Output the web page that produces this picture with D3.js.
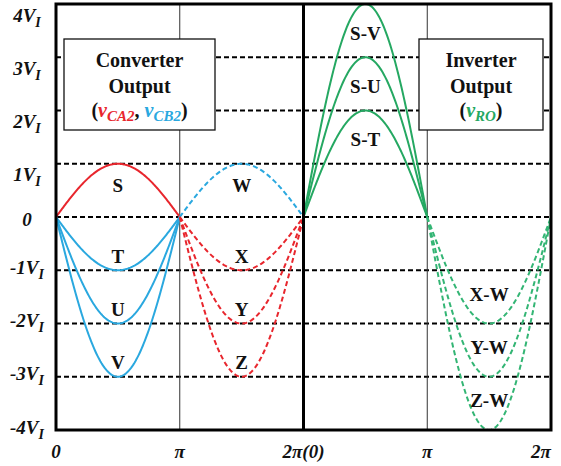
<!DOCTYPE html>
<html>
<head>
<meta charset="utf-8">
<script src="https://cdn.jsdelivr.net/npm/d3@7"></script>
<style>
  html, body { margin: 0; padding: 0; background: #fff; }
  svg { display: block; }
  text { font-family: "Liberation Serif", "Times New Roman", serif; font-weight: bold; }
</style>
</head>
<body>
<svg id="chart" width="561" height="466"></svg>
<script>
// Angle axis: two consecutive periods (converter side, then inverter side)
const angleTickValues = [0, Math.PI, 2 * Math.PI, 3 * Math.PI, 4 * Math.PI];
const angleTickLabels = ["0", "π", "2π(0)", "π", "2π"];

// Voltage axis in multiples of V_I
const voltTicks = [4, 3, 2, 1, 0, -1, -2, -3, -4];
const gridLevels = [3, 2, 1, 0, -1, -2, -3];

// Converter output, first half cycle (solid)
const convFirstNames = ["S", "T", "U", "V"];
const convFirstAmps = [1, -1, -2, -3];
const convFirstColors = ["#e8262d", "#2aa8df", "#2aa8df", "#2aa8df"];

// Converter output, second half cycle (dashed)
const convSecondNames = ["W", "X", "Y", "Z"];
const convSecondAmps = [1, -1, -2, -3];
const convSecondColors = ["#2aa8df", "#e8262d", "#e8262d", "#e8262d"];

// Inverter output, first half (solid) and second half (dashed)
const invFirstNames = ["S-T", "S-U", "S-V"];
const invFirstAmps = [2, 3, 4];
const invSecondNames = ["X-W", "Y-W", "Z-W"];
const invSecondAmps = [-2, -3, -4];
const invColor = "#25a862";
const invDashColor = "#33b574";

const svg = d3.select("#chart");

const x = d3.scaleLinear().domain([0, 4 * Math.PI]).range([56, 551]);
const y = d3.scaleLinear().domain([-4, 4]).range([430, 4]);

// Dashed reference levels
svg.append("g").selectAll("line").data(gridLevels).join("line")
  .attr("x1", x(0)).attr("x2", x(4 * Math.PI))
  .attr("y1", d => y(d)).attr("y2", d => y(d))
  .attr("stroke", "#000").attr("stroke-width", 2)
  .attr("stroke-dasharray", "5,3");

// Thin vertical markers at π (both halves)
svg.append("g").selectAll("line").data([Math.PI, 3 * Math.PI]).join("line")
  .attr("x1", d => x(d)).attr("x2", d => x(d))
  .attr("y1", y(4)).attr("y2", y(-4))
  .attr("stroke", "#333").attr("stroke-width", 1);

// Half-sine arcs
const line = d3.line().x(d => x(d[0])).y(d => y(d[1])).curve(d3.curveLinear);
function arc(start, amp) {
  return d3.range(0, 121).map(i => {
    const t = Math.PI * i / 120;
    return [start + t, amp * Math.sin(t)];
  });
}

function drawSet(names, amps, colors, start, dashed, inset) {
  const g = svg.append("g");
  g.selectAll("path").data(amps).join("path")
    .attr("d", a => line(arc(start, a)))
    .attr("fill", "none")
    .attr("stroke", (a, i) => colors[i])
    .attr("stroke-width", 2)
    .attr("stroke-dasharray", dashed ? "5,3" : null);
  g.selectAll("text").data(names).join("text")
    .attr("x", x(start + Math.PI / 2))
    .attr("y", (n, i) => y(amps[i] - Math.sign(amps[i]) * inset(amps[i])))
    .attr("dy", "0.35em")
    .attr("text-anchor", "middle")
    .attr("font-size", 19)
    .attr("fill", "#111")
    .text(n => n);
}

const convInset = a => (a > 0 ? 0.4 : 0.27);
const invInset = () => 0.55;

drawSet(convFirstNames, convFirstAmps, convFirstColors, 0, false, convInset);
drawSet(convSecondNames, convSecondAmps, convSecondColors, Math.PI, true, convInset);
drawSet(invFirstNames, invFirstAmps, invFirstAmps.map(() => invColor), 2 * Math.PI, false, invInset);
drawSet(invSecondNames, invSecondAmps, invSecondAmps.map(() => invDashColor), 3 * Math.PI, true, invInset);

// Annotation boxes
function box(x0, x1, lines, last) {
  const g = svg.append("g");
  g.append("rect")
    .attr("x", x0).attr("y", 39).attr("width", x1 - x0).attr("height", 91)
    .attr("fill", "#fff").attr("stroke", "#111").attr("stroke-width", 1.3);
  const cx = (x0 + x1) / 2;
  lines.forEach((t, i) => {
    g.append("text").attr("x", cx).attr("y", 67 + i * 26)
      .attr("text-anchor", "middle").attr("font-size", 20).attr("fill", "#111").text(t);
  });
  const tl = g.append("text").attr("x", cx).attr("y", 117)
    .attr("text-anchor", "middle").attr("font-size", 20).attr("fill", "#111");
  last.forEach(p => {
    const s = tl.append("tspan").attr("fill", p.color || "#111").text(p.text);
    if (p.italic) s.attr("font-style", "italic");
    if (p.sub) s.attr("font-size", 15).attr("dy", p.dy);
    else if (p.dy) s.attr("dy", p.dy);
  });
}

box(64, 215, ["Converter", "Output"], [
  { text: "(" },
  { text: "v", color: "#e8262d", italic: true },
  { text: "CA2", color: "#e8262d", italic: true, sub: true, dy: 4 },
  { text: ", ", dy: -4 },
  { text: "v", color: "#2aa8df", italic: true },
  { text: "CB2", color: "#2aa8df", italic: true, sub: true, dy: 4 },
  { text: ")", dy: -4 }
]);

box(419, 543, ["Inverter", "Output"], [
  { text: "(" },
  { text: "v", color: invColor, italic: true },
  { text: "RO", color: invColor, italic: true, sub: true, dy: 4 },
  { text: ")", dy: -4 }
]);

// Frame and the thick divider at 2π(0)
svg.append("rect")
  .attr("x", x(0)).attr("y", y(4))
  .attr("width", x(4 * Math.PI) - x(0)).attr("height", y(-4) - y(4))
  .attr("fill", "none").attr("stroke", "#000").attr("stroke-width", 3);
svg.append("line")
  .attr("x1", x(2 * Math.PI)).attr("x2", x(2 * Math.PI))
  .attr("y1", y(4)).attr("y2", y(-4))
  .attr("stroke", "#000").attr("stroke-width", 3);

// Voltage tick labels
const vLab = svg.append("g");
voltTicks.forEach(v => {
  const off = v > 0 ? 11 : (v < 0 ? -3 : 2);
  const t = vLab.append("text")
    .attr("x", 27).attr("y", y(v) + off)
    .attr("dy", "0.35em")
    .attr("text-anchor", "middle")
    .attr("font-size", 19).attr("font-style", "italic").attr("fill", "#111");
  if (v === 0) {
    t.text("0");
  } else {
    t.append("tspan").text((v < 0 ? "-" : "") + Math.abs(v) + "V");
    t.append("tspan").attr("font-size", 14).attr("dy", 5).text("I");
  }
});

// Angle tick labels
svg.append("g").selectAll("text").data(angleTickValues).join("text")
  .attr("x", (d, i) => i === 4 ? x(d) - 10 : x(d))
  .attr("y", 451).attr("dy", "0.35em")
  .attr("text-anchor", "middle")
  .attr("font-size", 19).attr("font-style", "italic").attr("fill", "#111")
  .text((d, i) => angleTickLabels[i]);
</script>
</body>
</html>
